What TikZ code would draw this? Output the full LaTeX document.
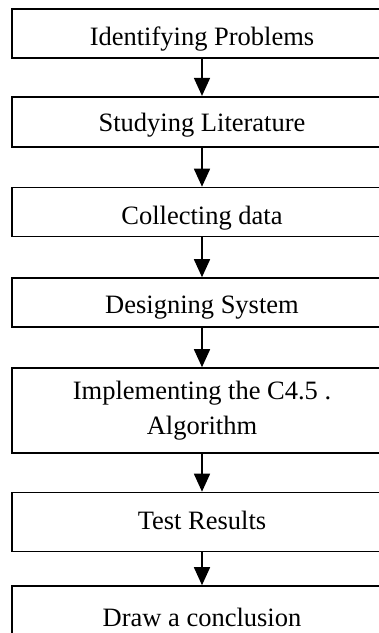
\documentclass[tikz,border=0pt]{standalone}
\usepackage{fontspec}
\setmainfont{Liberation Serif}
\usetikzlibrary{arrows.meta}
\begin{document}
\begin{tikzpicture}[x=1pt,y=1pt,
  stepbox/.style={draw=black, line width=1.6pt, minimum width=380pt, inner sep=0pt,
    font=\fontsize{26.5}{35}\selectfont, align=center, anchor=center},
  tshift/.style={text height=#1, text depth=0pt},
  flow/.style={draw=black, line width=1.6pt, -{Triangle[width=16pt,length=18pt]}}]
\useasboundingbox (0,0) rectangle (379,-633);
\clip (0,0) rectangle (379,-633);
\fill[white] (0,0) rectangle (379,-633);
\node[stepbox, minimum height=49pt, tshift=23pt] (b1) at (202,-33.5) {Identifying Problems};
\node[stepbox, minimum height=50pt, tshift=20pt] (b2) at (202,-121.7) {Studying Literature};
\node[stepbox, minimum height=49pt, tshift=24.5pt] (b3) at (202,-212) {Collecting data};
\node[stepbox, minimum height=49pt, tshift=21.5pt] (b4) at (202,-302.5) {Designing System};
\node[stepbox, minimum height=85pt] (b5) at (202,-410.5) {Implementing the C4.5 .\\Algorithm};
\node[stepbox, minimum height=59pt, tshift=14.7pt] (b6) at (202,-522) {Test Results};
\node[stepbox, minimum height=49pt, tshift=31pt] (b7) at (202,-610.5) {Draw a conclusion};
\draw[flow] (b1) -- (b2);
\draw[flow] (b2) -- (b3);
\draw[flow] (b3) -- (b4);
\draw[flow] (b4) -- (b5);
\draw[flow] (b5) -- (b6);
\draw[flow] (b6) -- (b7);
\end{tikzpicture}
\end{document}
